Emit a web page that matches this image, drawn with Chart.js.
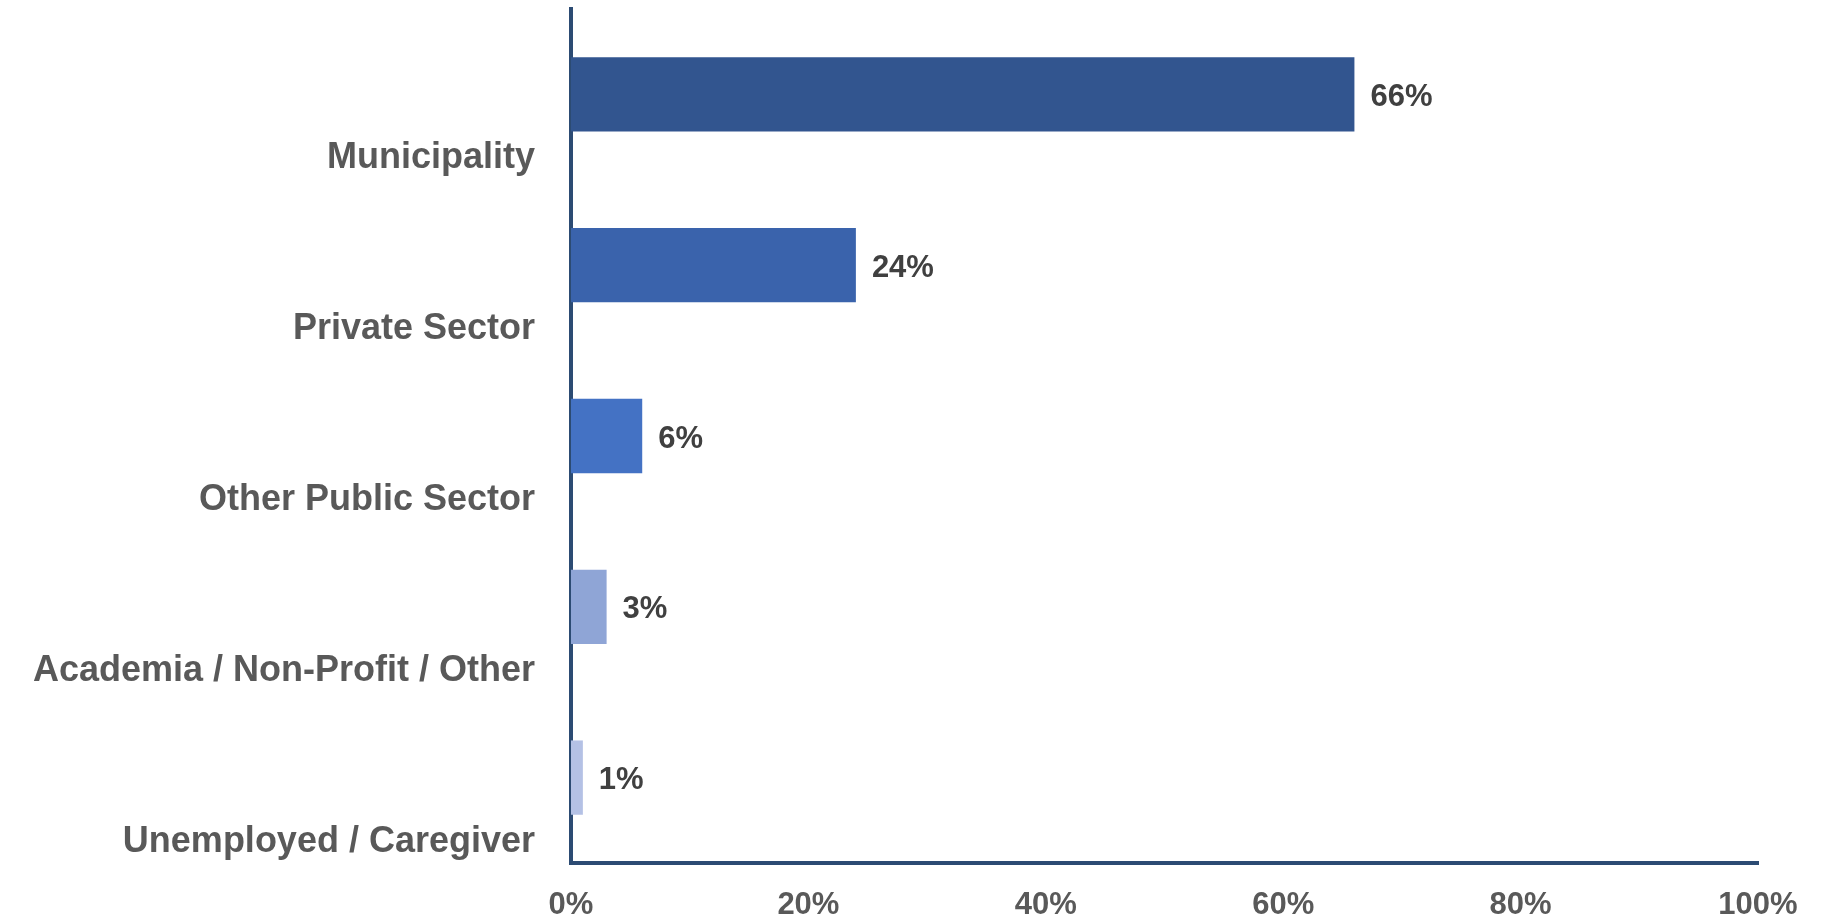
<!DOCTYPE html>
<html>
<head>
<meta charset="utf-8">
<script src="https://cdn.jsdelivr.net/npm/chart.js@4"></script>
<style>
  html, body { margin: 0; padding: 0; background: #fff; }
  #wrap { width: 1831px; height: 916px; position: relative; }
</style>
</head>
<body>
<div id="wrap"><canvas id="sectorChart"></canvas></div>
<script>
// employment sector of respondents
var sectors = ["Municipality", "Private Sector", "Other Public Sector", "Academia / Non-Profit / Other", "Unemployed / Caregiver"];
var shares = [66, 24, 6, 3, 1];
var barColors = ["#32558f", "#3a63ac", "#4472c4", "#8fa5d6", "#b4c1e5"];
var pctTicks = [0, 20, 40, 60, 80, 100];

var axisColor = "#2c4b73";
var fontFamily = "'Liberation Sans', Arial, sans-serif";

// writes the percentage just past the end of each bar
var valueLabels = {
	id: 'valueLabels',
	afterDatasetsDraw: function(chart){
		var ctx = chart.ctx;
		var meta = chart.getDatasetMeta(0);
		ctx.save();
		ctx.font = "bold 31px " + fontFamily;
		ctx.fillStyle = "#404040";
		ctx.textAlign = "left";
		ctx.textBaseline = "middle";
		meta.data.forEach(function(bar, i){
			ctx.fillText(shares[i] + "%", bar.x + 16, bar.y + 3);
		});
		ctx.restore();
	}
};

new Chart(document.getElementById("sectorChart"), {
	type: 'bar',
	data: {
		labels: sectors,
		datasets: [{
			data: shares,
			backgroundColor: barColors,
			borderWidth: 0,
			categoryPercentage: 1,
			barPercentage: 0.435
		}]
	},
	options: {
		indexAxis: 'y',
		responsive: true,
		maintainAspectRatio: false,
		animation: false,
		layout: { padding: { left: 0, right: 73, top: 9, bottom: 0 } },
		plugins: {
			legend: { display: false },
			tooltip: { enabled: false }
		},
		scales: {
			x: {
				min: 0,
				max: 100,
				afterBuildTicks: function(scale){
					scale.ticks = pctTicks.map(function(v){ return { value: v }; });
				},
				afterFit: function(scale){
					scale.height = 53;
					scale.paddingLeft = 0;
					scale.paddingRight = 0;
				},
				grid: { display: false, drawTicks: false },
				border: { display: true, color: axisColor, width: 4 },
				ticks: {
					padding: 24,
					color: "#595959",
					font: { family: fontFamily, size: 31, weight: 'bold' },
					maxRotation: 0,
					callback: function(v){ return v + "%"; }
				}
			},
			y: {
				afterFit: function(scale){
					scale.width = 571;
					scale.paddingTop = 0;
					scale.paddingBottom = 0;
				},
				grid: { display: false, drawTicks: false },
				border: { display: true, color: axisColor, width: 4 },
				ticks: {
					padding: 36,
					labelOffset: 64,
					color: "#595959",
					font: { family: fontFamily, size: 36, weight: 'bold' }
				}
			}
		}
	},
	plugins: [valueLabels]
});
</script>
</body>
</html>
